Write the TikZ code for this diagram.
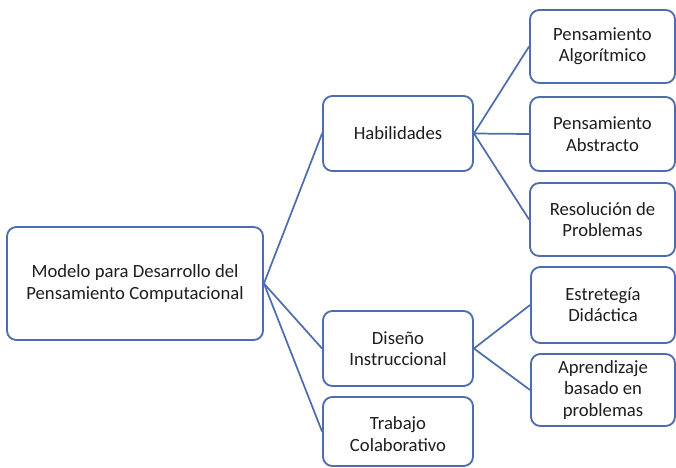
\documentclass[tikz,border=0pt]{standalone}
\usepackage{fontspec}
\setmainfont{Carlito}
\usetikzlibrary{fit}
\definecolor{boxblue}{HTML}{4E6DAE}
\definecolor{txt}{HTML}{1E1E1E}
\begin{document}
\begin{tikzpicture}[x=0.75pt,y=-0.75pt,
  box/.style={draw=boxblue, line width=1.4pt, rounded corners=7pt, fill=white,
    inner sep=0pt},
  lbl/.style={align=center, text=txt, font=\fontsize{14}{16}\selectfont},
  link/.style={draw=boxblue, line width=1.3pt}]
\useasboundingbox (0,0) rectangle (676,468);
\coordinate (r1) at (7,227); \coordinate (r2) at (263,340);
\coordinate (h1) at (323,96); \coordinate (h2) at (473,171);
\coordinate (d1) at (323,311); \coordinate (d2) at (473,386);
\coordinate (t1) at (323,397); \coordinate (t2) at (473,466);
\coordinate (a1) at (530,10); \coordinate (a2) at (675,83);
\coordinate (b1) at (530,97); \coordinate (b2) at (675,171);
\coordinate (c1) at (530,183); \coordinate (c2) at (675,256);
\coordinate (e1) at (531,267); \coordinate (e2) at (675,343);
\coordinate (p1) at (531,354); \coordinate (p2) at (675,426);
\node[box, fit=(r1)(r2)] (root) {};
\node[lbl] (rootT) at (root.center) {Modelo para Desarrollo del\\Pensamiento Computacional};
\node[box, fit=(h1)(h2)] (hab) {};
\node[lbl] (habT) at (hab.center) {Habilidades};
\node[box, fit=(d1)(d2)] (dis) {};
\node[lbl] (disT) at (dis.center) {Diseño\\Instruccional};
\node[box, fit=(t1)(t2)] (tra) {};
\node[lbl] (traT) at ([yshift=-2pt]tra.center) {Trabajo\\Colaborativo};
\node[box, fit=(a1)(a2)] (alg) {};
\node[lbl] (algT) at (alg.center) {Pensamiento\\Algorítmico};
\node[box, fit=(b1)(b2)] (abs) {};
\node[lbl] (absT) at (abs.center) {Pensamiento\\Abstracto};
\node[box, fit=(c1)(c2)] (res) {};
\node[lbl] (resT) at (res.center) {Resolución de\\Problemas};
\node[box, fit=(e1)(e2)] (est) {};
\node[lbl] (estT) at (est.center) {Estretegía\\Didáctica};
\node[box, fit=(p1)(p2)] (apr) {};
\node[lbl] (aprT) at (apr.center) {Aprendizaje\\basado en\\problemas};
\draw[link] (root.east) -- (hab.west);
\draw[link] (root.east) -- (dis.west);
\draw[link] (root.east) -- (tra.west);
\draw[link] (hab.east) -- (alg.west);
\draw[link] (hab.east) -- (abs.west);
\draw[link] (hab.east) -- (res.west);
\draw[link] (dis.east) -- (est.west);
\draw[link] (dis.east) -- (apr.west);
\end{tikzpicture}
\end{document}
